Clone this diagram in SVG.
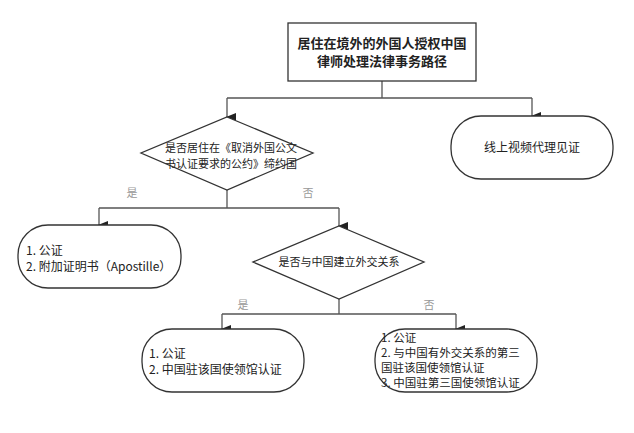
<svg xmlns="http://www.w3.org/2000/svg" width="634" height="433" viewBox="0 0 634 433">
<defs>
<marker id="ar" markerWidth="8" markerHeight="10" refX="4" refY="9" orient="auto-start-reverse" markerUnits="userSpaceOnUse" viewBox="0 0 8 10"><path d="M0,0 L8,0 L4,10 Z" fill="#222"/></marker>
<style>
.s{fill:#fff;stroke:#333;stroke-width:1.3}
.t{font-family:"Noto Sans CJK SC","Liberation Serif",serif;fill:#222}
.c{fill:none;stroke:#555;stroke-width:1.3}
.l{font-family:"Noto Sans CJK SC",serif;font-size:11px;fill:#999}
</style>
</defs>
<rect width="634" height="433" fill="#fff"/>
<g id="connectors">
<path class="c" d="M382,81 V98 M227,98 H532"/>
<path class="c" d="M227,98 V117" marker-end="url(#ar)"/>
<path class="c" d="M532,98 V116" marker-end="url(#ar)"/>
<path class="c" d="M227,190 V208 M99,208 H339"/>
<path class="c" d="M99,208 V225" marker-end="url(#ar)"/>
<path class="c" d="M339,208 V226" marker-end="url(#ar)"/>
<path class="c" d="M339,299 V314 M222,314 H456"/>
<path class="c" d="M222,314 V329" marker-end="url(#ar)"/>
<path class="c" d="M456,314 V329" marker-end="url(#ar)"/>
<text class="l" x="132" y="197" text-anchor="middle">是</text>
<text class="l" x="308" y="197" text-anchor="middle">否</text>
<text class="l" x="243" y="309" text-anchor="middle">是</text>
<text class="l" x="429" y="309" text-anchor="middle">否</text>
</g>
<g id="title">
<rect class="s" x="288" y="23" width="188" height="58"/>
<text class="t" x="382" y="48" text-anchor="middle" font-size="13" font-weight="bold">居住在境外的外国人授权中国</text>
<text class="t" x="382" y="66" text-anchor="middle" font-size="13" font-weight="bold">律师处理法律事务路径</text>
</g>
<g id="online">
<rect class="s" x="451" y="116" width="162" height="63" rx="30" ry="30"/>
<text class="t" x="532" y="152" text-anchor="middle" font-size="12">线上视频代理见证</text>
</g>
<g id="d1">
<polygon class="s" points="227,117 313,153 227,190 141,153"/>
<text class="t" x="165" y="152" font-size="11">是否居住在《取消外国公文</text>
<text class="t" x="165" y="168" font-size="11">书认证要求的公约》缔约国</text>
</g>
<g id="apostille">
<rect class="s" x="18" y="225" width="163" height="63" rx="30" ry="30"/>
<text class="t" x="26" y="255" font-size="12">1. 公证</text>
<text class="t" x="26" y="271" font-size="12">2. 附加证明书（Apostille）</text>
</g>
<g id="d2">
<polygon class="s" points="339,226 424,262 339,299 253,262"/>
<text class="t" x="339" y="266" text-anchor="middle" font-size="11">是否与中国建立外交关系</text>
</g>
<g id="yes2">
<rect class="s" x="142" y="329" width="162" height="63" rx="30" ry="30"/>
<text class="t" x="149" y="358" font-size="12">1. 公证</text>
<text class="t" x="149" y="374" font-size="12">2. 中国驻该国使领馆认证</text>
</g>
<g id="no2">
<rect class="s" x="375" y="329" width="162" height="63" rx="30" ry="30"/>
<text class="t" x="381" y="342" font-size="11.5">1. 公证</text>
<text class="t" x="381" y="357" font-size="11.5">2. 与中国有外交关系的第三</text>
<text class="t" x="381" y="372" font-size="11.5">国驻该国使领馆认证</text>
<text class="t" x="381" y="387" font-size="11.5">3. 中国驻第三国使领馆认证</text>
</g>
</svg>
